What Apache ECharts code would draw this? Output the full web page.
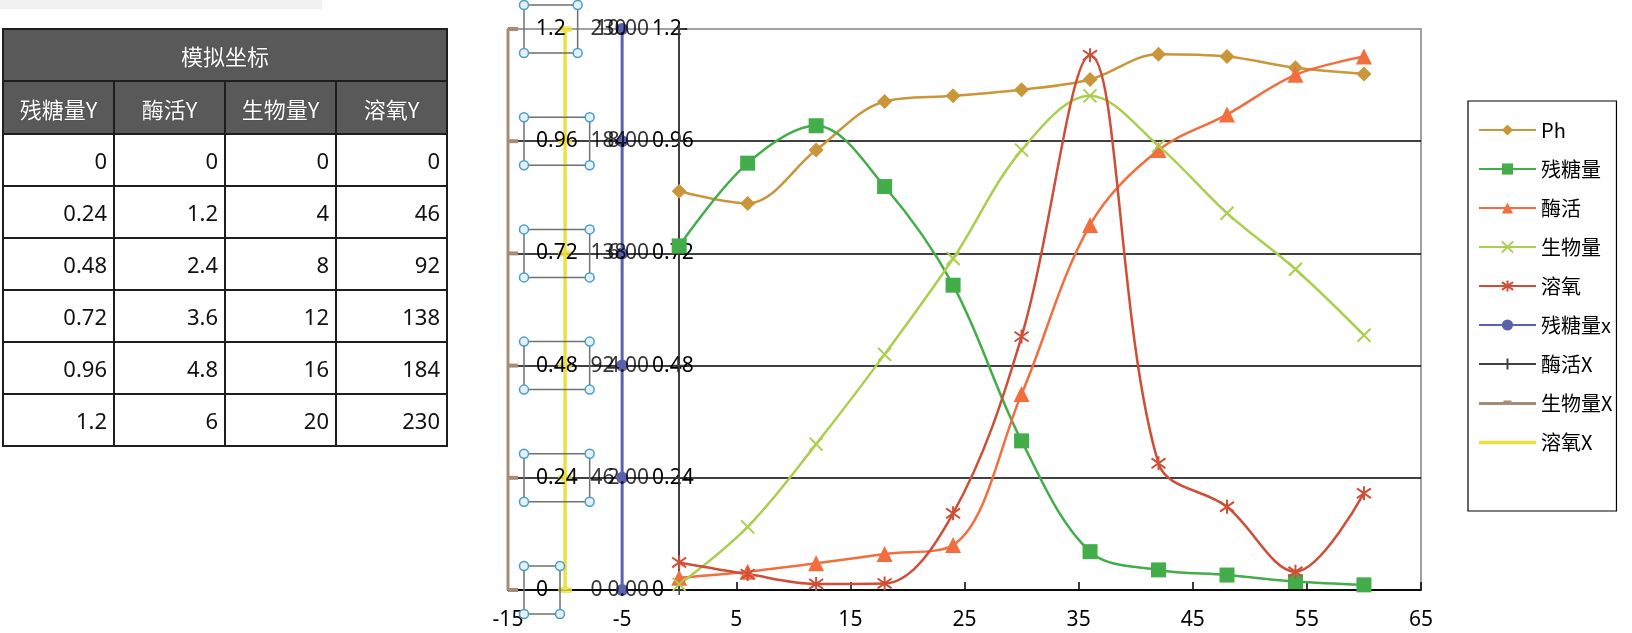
<!DOCTYPE html>
<html><head><meta charset="utf-8">
<script src="https://cdn.jsdelivr.net/npm/echarts@6/dist/echarts.min.js"></script>
<style>
html,body{margin:0;padding:0;background:#fff;}
#chart{position:absolute;left:0;top:0;width:1632px;height:633px;}
#topbar{position:absolute;left:0;top:0;width:322px;height:9px;background:#f1f1f1;}
#tbl{position:absolute;left:2px;top:28px;border-collapse:collapse;font-family:"Noto Sans","Noto Sans CJK SC",sans-serif;table-layout:fixed;width:446px;}
#tbl td,#tbl th{border:2px solid #1e1e1e;padding:0;box-sizing:border-box;}
#tbl th{background:#595959;color:#fff;font-weight:normal;font-size:22px;font-family:"Noto Sans CJK SC","Noto Sans",sans-serif;text-shadow:0 0 1px #222;}
#tbl td{height:52px;text-align:right;padding-right:6px;font-size:22px;color:#111;}
</style></head>
<body>
<div id="topbar"></div>
<div id="chart"></div>
<table id="tbl"></table>
<script>
// ---------- data ----------
const xValues = [0, 6, 12, 18, 24, 30, 36, 42, 48, 54, 60];
const ph      = [0.853, 0.827, 0.941, 1.045, 1.057, 1.070, 1.092, 1.146, 1.141, 1.117, 1.104];
const sugar   = [0.736, 0.913, 0.993, 0.863, 0.652, 0.319, 0.082, 0.043, 0.032, 0.018, 0.011];
const enzyme  = [0.026, 0.039, 0.057, 0.077, 0.096, 0.419, 0.781, 0.941, 1.017, 1.102, 1.141];
const biomass = [0.012, 0.135, 0.312, 0.504, 0.709, 0.941, 1.057, 0.950, 0.806, 0.686, 0.545];
const oxygen  = [0.059, 0.034, 0.013, 0.014, 0.164, 0.542, 1.144, 0.271, 0.178, 0.039, 0.207];

// simulated axes
const levels = [0, 0.24, 0.48, 0.72, 0.96, 1.2];
const yTickLabels  = ['0', '0.24', '0.48', '0.72', '0.96', '1.2'];
const sugarLabels  = ['0', '0.24', '0.48', '0.72', '0.96', '1.2'];
const oxygenLabels = ['0', '46', '92', '138', '184', '230'];
const midLabels    = ['0.00', '2.00', '4.00', '6.00', '8.00', '10.00'];
const biomassAxisX = -15, oxygenAxisX = -10, sugarAxisX = -5, enzymeAxisX = 0;

// table
const tableTitle   = '模拟坐标';
const tableHeaders = ['残糖量Y', '酶活Y', '生物量Y', '溶氧Y'];
const tableCols = [
  ['0', '0.24', '0.48', '0.72', '0.96', '1.2'],
  ['0', '1.2', '2.4', '3.6', '4.8', '6'],
  ['0', '4', '8', '12', '16', '20'],
  ['0', '46', '92', '138', '184', '230']
];

// ---------- table ----------
(function () {
  let h = `<tr><th colspan="4" style="height:52px">${tableTitle}</th></tr><tr>` +
    tableHeaders.map(t => `<th style="height:53px">${t}</th>`).join('') + '</tr>';
  for (let r = 0; r < tableCols[0].length; r++) {
    h += '<tr>' + tableCols.map(c => `<td>${c[r]}</td>`).join('') + '</tr>';
  }
  document.getElementById('tbl').innerHTML = h;
})();

// ---------- chart ----------
const FONT = '"Noto Sans", "Noto Sans CJK SC", sans-serif';
const CJK = '"Noto Sans CJK SC", "Noto Sans", sans-serif';
const NUM_SIZE = 21;
const pair = (xs, ys) => xs.map((x, i) => [x, ys[i]]);
const vert = x => levels.map(y => [x, y]);

const mctx = document.createElement('canvas').getContext('2d');
mctx.font = NUM_SIZE + 'px "Noto Sans"';
const measure = t => mctx.measureText(t).width;

const C = {
  ph: '#c9963a', sugar: '#42ad49', enzyme: '#f26e3f', biomass: '#a9cf4c', oxygen: '#cf4e37',
  sugarX: '#5a62ad', enzymeX: '#404040', biomassX: '#a68c78', oxygenX: '#ece043'
};
const SM = 0.35;
function dataLine(name, ys, color, symbol, size, extra) {
  return Object.assign({
    name, type: 'line', data: pair(xValues, ys), smooth: SM, symbol, symbolSize: size,
    itemStyle: { color }, lineStyle: { color, width: 2.5 }, z: 4
  }, extra || {});
}
const crossPath = 'path://M0,0L10,10M10,0L0,10';
const starPath = 'path://M0,1.5L10,8.5M10,1.5L0,8.5M5,0L5,10';

const chart = echarts.init(document.getElementById('chart'), null, { renderer: 'canvas' });
chart.setOption({
  animation: false,
  backgroundColor: 'transparent',
  grid: { left: 508, right: 211, top: 29, bottom: 43, show: true, borderColor: '#a0a0a0', borderWidth: 2, containLabel: false },
  xAxis: {
    type: 'value', min: -15, max: 65, interval: 10,
    axisLine: { show: true, lineStyle: { color: '#000', width: 1.5 } },
    axisTick: { show: true, inside: true, length: 8, lineStyle: { color: '#000', width: 1.5 } },
    axisLabel: { fontSize: NUM_SIZE, fontFamily: FONT, color: '#000', margin: 20 },
    splitLine: { show: false }
  },
  yAxis: {
    type: 'value', min: 0, max: 1.2, interval: 0.24,
    axisLine: { show: true, onZero: true, lineStyle: { color: '#000', width: 1.5 } },
    axisTick: { show: true, inside: true, length: 8, lineStyle: { color: '#000', width: 1.5 } },
    axisLabel: { fontSize: NUM_SIZE, fontFamily: FONT, color: '#000', align: 'left', margin: -144,
      formatter: (v, i) => yTickLabels[i] },
    splitLine: { show: true, showMaxLine: false, lineStyle: { color: '#000', width: 1.5 } }
  },
  legend: {
    orient: 'vertical', left: 1468, top: 101,
    data: ['Ph', '残糖量', '酶活', '生物量', '溶氧', '残糖量x', '酶活X',
      { name: '生物量X', icon: 'path://M0,0M57,14M0,6h57v3h-57zM24.5,4.5h8v2h-8z' },
      { name: '溶氧X', icon: 'path://M0,0M57,14M0,5.8h57v3.4h-57z' }],
    itemWidth: 57, itemHeight: 14, itemGap: 17,
    padding: [18, 4, 58, 10],
    borderColor: '#000', borderWidth: 1.2,
    textStyle: { fontSize: 20, fontFamily: CJK, color: '#000', lineHeight: 22 }
  },
  series: [
    // simulated axis lines
    { name: '生物量X', type: 'line', data: vert(biomassAxisX), symbol: 'rect', symbolSize: [10, 4], symbolOffset: [5, 0],
      itemStyle: { color: C.biomassX }, lineStyle: { color: C.biomassX, width: 3 }, z: 2 },
    { name: '溶氧X', type: 'line', data: vert(oxygenAxisX), symbol: 'none',
      itemStyle: { color: C.oxygenX }, lineStyle: { color: C.oxygenX, width: 3.5 }, z: 2 },
    { name: 'oxygenTicks', type: 'scatter', data: vert(oxygenAxisX), symbol: 'roundRect', symbolSize: [14, 6],
      itemStyle: { color: C.oxygenX }, z: 3, silent: true },
    { name: '残糖量x', type: 'line', data: vert(sugarAxisX), symbol: 'circle', symbolSize: 12,
      itemStyle: { color: C.sugarX }, lineStyle: { color: C.sugarX, width: 3 }, z: 2 },
    { name: '酶活X', type: 'line', data: vert(enzymeAxisX), symbol: 'path://M5,0L5,10M0,5L10,5', symbolSize: 10,
      itemStyle: { color: C.enzymeX, borderColor: C.enzymeX, borderWidth: 1.5 }, lineStyle: { color: C.enzymeX, width: 1.5 }, z: 2 },
    // data series
    dataLine('Ph', ph, C.ph, 'diamond', 15),
    dataLine('残糖量', sugar, C.sugar, 'rect', 15),
    dataLine('酶活', enzyme, C.enzyme, 'triangle', 16),
    dataLine('生物量', biomass, C.biomass, crossPath, 13,
      { itemStyle: { color: C.biomass, borderColor: C.biomass, borderWidth: 2 } }),
    dataLine('溶氧', oxygen, C.oxygen, starPath, 14,
      { itemStyle: { color: C.oxygen, borderColor: C.oxygen, borderWidth: 2 } }),
    // simulated axis labels
    { name: 'oxygenLabels', type: 'scatter', data: vert(oxygenAxisX), symbolSize: 1, silent: true, z: 10,
      itemStyle: { color: 'rgba(0,0,0,0)' },
      label: { show: true, position: [26, 0.5], align: 'left', verticalAlign: 'middle', formatter: p => oxygenLabels[p.dataIndex],
        fontSize: NUM_SIZE, fontFamily: FONT, color: '#000' } },
    { name: 'midLabels', type: 'scatter', data: vert(sugarAxisX), symbolSize: 1, silent: true, z: 10,
      itemStyle: { color: 'rgba(0,0,0,0)' },
      label: { show: true, position: [27.5, 0.5], align: 'right', verticalAlign: 'middle', formatter: p => midLabels[p.dataIndex],
        fontSize: NUM_SIZE, fontFamily: FONT, color: '#000' } },
    { name: 'sugarLabels', type: 'custom', data: vert(biomassAxisX), silent: true, z: 10,
      renderItem: (params, api) => {
        const p = api.coord([api.value(0), api.value(1)]);
        const text = sugarLabels[params.dataIndex];
        const tw = measure(text);
        const bh = 48, bw = tw + 24, bx = p[0] + 16, by = p[1] - bh / 2;
        const corners = [[bx, by], [bx + bw, by], [bx, by + bh], [bx + bw, by + bh]];
        return {
          type: 'group', children: [
            { type: 'rect', shape: { x: bx, y: by, width: bw, height: bh }, style: { fill: 'none', stroke: '#707070', lineWidth: 1.5 } },
            { type: 'text', style: { text, x: bx + 12, y: p[1], align: 'left', verticalAlign: 'middle',
              font: NUM_SIZE + 'px "Noto Sans"', fill: '#000' } }
          ].concat(corners.map(c => ({ type: 'circle', shape: { cx: c[0], cy: c[1], r: 4.5 },
            style: { fill: '#e2f1fa', stroke: '#4b9cc5', lineWidth: 1.5 } })))
        };
      } }
  ]
});
</script>
</body></html>
